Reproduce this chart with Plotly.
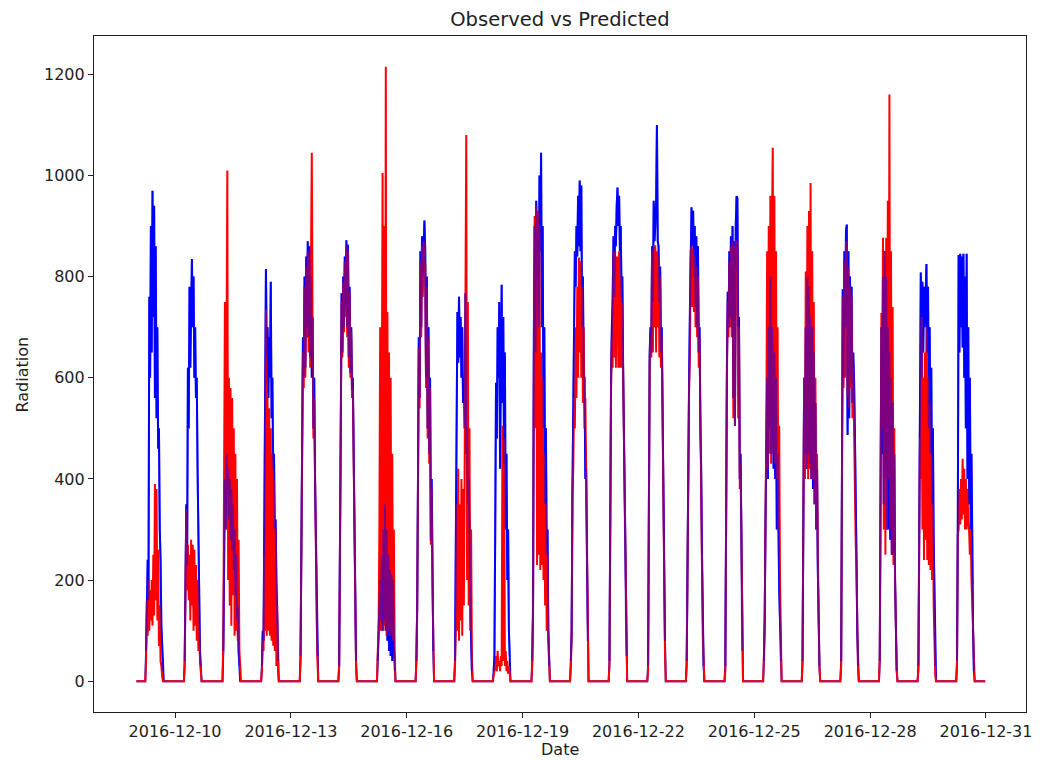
import pandas as pd
import plotly.graph_objects as go

# Half-hourly daylight readings for each day, 05:30 through 17:30 (25 samples).
# Outside these windows the radiation is zero.
days = ["2016-12-09", "2016-12-10", "2016-12-11", "2016-12-12", "2016-12-13",
        "2016-12-14", "2016-12-15", "2016-12-16", "2016-12-17", "2016-12-18",
        "2016-12-19", "2016-12-20", "2016-12-21", "2016-12-22", "2016-12-23",
        "2016-12-24", "2016-12-25", "2016-12-26", "2016-12-27", "2016-12-28",
        "2016-12-29", "2016-12-30"]

observed_by_day = [
    [0, 60, 200, 240, 160, 760, 600, 900, 650, 970, 720, 940, 560, 860, 520, 700, 460, 500, 300, 240, 110, 60, 20, 0, 0],
    [0, 40, 200, 350, 230, 620, 500, 780, 620, 820, 835, 700, 800, 600, 700, 560, 600, 420, 270, 180, 60, 30, 0, 0, 0],
    [0, 60, 250, 400, 300, 450, 380, 420, 320, 400, 280, 380, 260, 350, 220, 300, 170, 250, 120, 150, 60, 30, 0, 0, 0],
    [0, 30, 100, 80, 300, 600, 815, 640, 700, 560, 680, 600, 790, 520, 600, 420, 450, 300, 320, 200, 120, 40, 0, 0, 0],
    [0, 50, 260, 450, 680, 600, 800, 620, 840, 700, 870, 680, 860, 640, 800, 600, 720, 500, 600, 400, 300, 150, 50, 0, 0],
    [0, 30, 200, 500, 767, 650, 800, 700, 840, 740, 872, 700, 863, 640, 780, 610, 700, 575, 600, 420, 300, 150, 40, 0, 0],
    [0, 40, 100, 150, 200, 120, 250, 100, 300, 120, 350, 100, 300, 80, 250, 60, 220, 50, 210, 40, 200, 80, 20, 0, 0],
    [0, 40, 150, 400, 680, 560, 850, 700, 880, 800, 900, 911, 850, 600, 800, 500, 700, 450, 600, 278, 400, 200, 60, 0, 0],
    [0, 40, 200, 500, 730, 630, 760, 640, 720, 600, 700, 550, 600, 500, 767, 450, 500, 350, 400, 250, 200, 80, 20, 0, 0],
    [0, 20, 50, 300, 590, 480, 700, 600, 750, 420, 760, 784, 550, 720, 430, 650, 300, 450, 200, 300, 100, 50, 0, 0, 0],
    [0, 40, 150, 680, 900, 650, 950, 800, 900, 700, 1000, 850, 1045, 700, 900, 500, 700, 350, 500, 250, 300, 100, 30, 0, 0],
    [0, 40, 100, 380, 600, 700, 850, 780, 900, 840, 960, 860, 990, 850, 980, 700, 800, 600, 600, 400, 420, 250, 80, 0, 0],
    [0, 40, 417, 600, 700, 760, 880, 760, 900, 860, 940, 976, 900, 960, 850, 900, 760, 800, 620, 500, 300, 150, 50, 0, 0],
    [0, 30, 374, 650, 700, 650, 860, 750, 950, 870, 900, 950, 1100, 870, 860, 750, 820, 650, 700, 500, 400, 250, 80, 0, 0],
    [0, 40, 300, 417, 600, 730, 880, 937, 860, 930, 800, 900, 740, 880, 700, 860, 650, 700, 500, 420, 250, 100, 30, 0, 0],
    [0, 30, 417, 619, 770, 700, 850, 720, 880, 700, 900, 560, 870, 505, 900, 959, 955, 700, 720, 400, 450, 250, 60, 0, 0],
    [0, 40, 120, 320, 450, 600, 400, 700, 500, 800, 450, 700, 600, 420, 650, 400, 600, 300, 450, 250, 180, 120, 40, 0, 0],
    [0, 40, 400, 600, 450, 700, 420, 800, 450, 780, 430, 720, 400, 700, 380, 650, 350, 550, 300, 420, 220, 100, 30, 0, 0],
    [0, 40, 350, 775, 600, 850, 700, 890, 903, 487, 850, 520, 800, 600, 780, 550, 650, 600, 500, 300, 250, 100, 30, 0, 0],
    [0, 40, 280, 700, 450, 800, 350, 850, 400, 800, 300, 700, 300, 650, 280, 600, 250, 550, 250, 450, 200, 80, 20, 0, 0],
    [0, 30, 300, 500, 808, 600, 790, 650, 780, 700, 760, 825, 650, 780, 500, 700, 450, 620, 350, 500, 280, 150, 30, 0, 0],
    [0, 40, 310, 843, 650, 845, 700, 840, 660, 845, 600, 800, 500, 845, 400, 700, 350, 600, 300, 450, 200, 100, 20, 0, 0],
]

predicted_by_day = [
    [0, 40, 160, 90, 200, 100, 180, 120, 200, 110, 250, 130, 390, 160, 380, 120, 260, 70, 150, 40, 30, 10, 0, 0, 0],
    [0, 30, 150, 340, 180, 270, 160, 250, 120, 280, 150, 270, 100, 260, 110, 230, 80, 200, 60, 100, 40, 20, 0, 0, 0],
    [0, 80, 420, 750, 300, 640, 1010, 200, 600, 150, 580, 110, 560, 170, 500, 90, 450, 100, 400, 80, 280, 60, 30, 0, 0],
    [0, 20, 80, 60, 250, 100, 735, 90, 560, 100, 540, 90, 500, 80, 450, 70, 400, 60, 300, 30, 150, 20, 0, 0, 0],
    [0, 40, 240, 420, 650, 580, 780, 600, 820, 680, 850, 650, 840, 620, 780, 1045, 700, 480, 560, 380, 280, 130, 40, 0, 0],
    [0, 30, 190, 480, 750, 640, 790, 690, 830, 720, 860, 680, 850, 620, 770, 600, 690, 560, 580, 400, 280, 140, 30, 0, 0],
    [0, 60, 100, 300, 700, 100, 860, 1005, 100, 900, 110, 1215, 90, 730, 100, 650, 90, 600, 100, 450, 80, 300, 60, 0, 0],
    [0, 40, 140, 380, 660, 540, 830, 680, 860, 760, 870, 860, 820, 580, 780, 480, 680, 430, 580, 270, 380, 190, 50, 0, 0],
    [0, 30, 100, 350, 100, 420, 80, 350, 120, 400, 90, 380, 150, 420, 767, 1080, 200, 750, 150, 500, 100, 300, 50, 0, 0],
    [0, 10, 20, 30, 50, 20, 60, 30, 40, 20, 50, 30, 505, 40, 480, 30, 60, 20, 40, 15, 30, 10, 0, 0, 0],
    [0, 30, 130, 600, 920, 500, 940, 230, 930, 250, 900, 220, 650, 230, 600, 200, 450, 150, 350, 100, 250, 80, 20, 0, 0],
    [0, 30, 90, 370, 420, 560, 500, 700, 560, 780, 600, 838, 650, 830, 600, 780, 550, 700, 500, 560, 380, 230, 60, 0, 0],
    [0, 30, 400, 580, 680, 620, 850, 640, 850, 620, 840, 830, 620, 850, 620, 800, 620, 750, 600, 480, 280, 140, 40, 0, 0],
    [0, 20, 360, 630, 680, 640, 850, 650, 860, 700, 862, 650, 850, 700, 840, 640, 800, 620, 680, 480, 380, 240, 60, 0, 0],
    [0, 30, 280, 400, 580, 640, 850, 862, 740, 855, 730, 840, 700, 820, 680, 800, 620, 680, 480, 400, 230, 90, 20, 0, 0],
    [0, 20, 400, 600, 750, 680, 830, 700, 860, 680, 870, 520, 860, 505, 871, 860, 870, 520, 700, 380, 430, 230, 50, 0, 0],
    [0, 50, 130, 330, 500, 850, 420, 900, 450, 960, 430, 900, 1055, 450, 960, 430, 850, 400, 700, 300, 505, 200, 60, 0, 0],
    [0, 40, 417, 600, 400, 810, 420, 900, 400, 930, 420, 985, 400, 850, 400, 750, 350, 600, 300, 450, 250, 120, 30, 0, 0],
    [0, 30, 330, 760, 580, 830, 600, 870, 860, 560, 820, 540, 780, 580, 760, 520, 620, 480, 430, 280, 230, 90, 20, 0, 0],
    [0, 50, 300, 728, 500, 877, 300, 850, 250, 877, 300, 950, 400, 1160, 300, 850, 250, 740, 230, 500, 200, 100, 30, 0, 0],
    [0, 20, 280, 480, 400, 720, 300, 600, 240, 650, 280, 700, 240, 600, 230, 550, 220, 450, 200, 350, 150, 70, 10, 0, 0],
    [0, 30, 290, 300, 380, 310, 400, 320, 440, 330, 420, 300, 400, 300, 380, 320, 300, 250, 300, 200, 150, 60, 10, 0, 0],
]

date_ticks = ["2016-12-10", "2016-12-13", "2016-12-16", "2016-12-19",
              "2016-12-22", "2016-12-25", "2016-12-28", "2016-12-31"]
radiation_ticks = [0, 200, 400, 600, 800, 1000, 1200]

# Build the full half-hourly series: zero at night, daily readings in daylight.
index = pd.date_range("2016-12-09 00:00", "2016-12-30 23:30", freq="30min")
observed = pd.Series(0.0, index=index)
predicted = pd.Series(0.0, index=index)
for day, obs, pred in zip(days, observed_by_day, predicted_by_day):
    window = pd.date_range(f"{day} 05:30", periods=len(obs), freq="30min")
    observed.loc[window] = obs
    predicted.loc[window] = pred

# Daylight-only copy of the observed series, used as a translucent overlay.
observed_daylight = observed.where(observed > 0)

font = dict(family="DejaVu Sans", size=16, color="#1e1e1e")

fig = go.Figure()
fig.add_trace(go.Scatter(x=observed.index, y=observed.values, mode="lines",
                         line=dict(color="#0000ff", width=2), name="Observed"))
fig.add_trace(go.Scatter(x=predicted.index, y=predicted.values, mode="lines",
                         line=dict(color="#ff0000", width=2), name="Predicted"))
# Translucent observed overlay so overlapping stretches blend to purple.
fig.add_trace(go.Scatter(x=observed_daylight.index, y=observed_daylight.values,
                         mode="lines", connectgaps=False,
                         line=dict(color="#0000ff", width=2), opacity=0.5,
                         hoverinfo="skip", name="Observed"))

axis_style = dict(showgrid=False, zeroline=False, showline=True, mirror=True,
                  linecolor="#202020", linewidth=1.2, ticks="outside",
                  ticklen=5, tickwidth=1.2, tickcolor="#202020", tickfont=font)

fig.update_layout(
    width=1044, height=760,
    margin=dict(l=94, r=12, t=36, b=48),
    paper_bgcolor="white", plot_bgcolor="white",
    showlegend=False,
    font=font,
    title=dict(text="Observed vs Predicted", x=0.5, xref="paper",
               y=1 - 19 / 760, yref="container", yanchor="middle",
               font=dict(family="DejaVu Sans", size=19.5, color="#1e1e1e")),
    xaxis=dict(type="date", range=["2016-12-07 21:38", "2017-01-01 00:53"],
               tickvals=date_ticks, ticktext=date_ticks, **axis_style),
    yaxis=dict(range=[-60.75, 1275.75], tickvals=radiation_ticks,
               ticktext=[str(v) for v in radiation_ticks], **axis_style),
    annotations=[
        dict(text="Date", xref="paper", yref="paper", x=0.5,
             y=-(749 - 712) / 676, xanchor="center", yanchor="middle",
             showarrow=False, font=font),
        dict(text="Radiation", xref="paper", yref="paper",
             x=-(94 - 22) / 938, y=0.5, xanchor="center", yanchor="middle",
             textangle=-90, showarrow=False, font=font),
    ],
)

fig.write_html("out.html")
